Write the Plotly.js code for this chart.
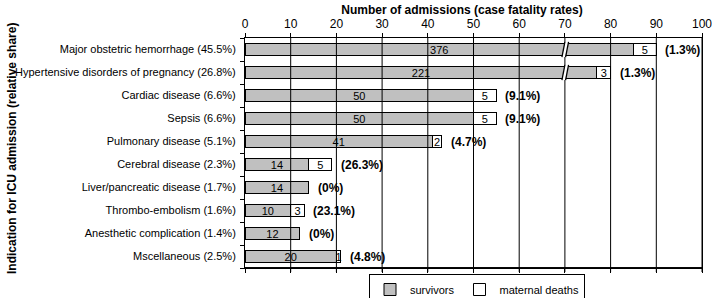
<!DOCTYPE html>
<html>
<head>
<meta charset="utf-8">
<script src="https://cdn.plot.ly/plotly-3.0.1.min.js"></script>
<style>html,body{margin:0;padding:0;background:#fff;overflow:hidden;}#chart{width:712px;height:298px;}</style>
</head>
<body>
<div id="chart"></div>
<script>
const categories = [
  "Major obstetric hemorrhage (45.5%)",
  "Hypertensive disorders of pregnancy (26.8%)",
  "Cardiac disease (6.6%)",
  "Sepsis (6.6%)",
  "Pulmonary disease (5.1%)",
  "Cerebral disease (2.3%)",
  "Liver/pancreatic disease (1.7%)",
  "Thrombo-embolism (1.6%)",
  "Anesthetic complication (1.4%)",
  "Mscellaneous (2.5%)"
];
const survivors = [376, 221, 50, 50, 41, 14, 14, 10, 12, 20];
// drawn length of the survivors bar (the first two are cut by an axis break)
const survivorsDrawn = [85, 77, 50, 50, 41, 14, 14, 10, 12, 20];
const deaths = [5, 3, 5, 5, 2, 5, 0, 3, 0, 1];
const fatalityRates = ["1.3%", "1.3%", "9.1%", "9.1%", "4.7%", "26.3%", "0%", "23.1%", "0%", "4.8%"];
const brokenBars = [true, true, false, false, false, false, false, false, false, false];
const breakAt = 70;
const xTicks = [0, 10, 20, 30, 40, 50, 60, 70, 80, 90, 100];

const FONT = "Liberation Sans, Arial, sans-serif";
const idx = categories.map((c, i) => i);
const yLo = -0.5, yHi = categories.length - 0.5;
const xLo = xTicks[0], xHi = xTicks[xTicks.length - 1];

// gridlines drawn as a line trace from the tick values (below the bars)
const gx = [], gy = [];
xTicks.slice(1).forEach(v => { gx.push(v, v, null); gy.push(yLo, yHi, null); });
// bottom frame line, just inside the plot area
gx.push(xLo, xHi); gy.push(yHi - 0.02, yHi - 0.02);

const traces = [
  {
    type: "scatter", mode: "lines", x: gx, y: gy, showlegend: false,
    line: {color: "#000", width: 1}, hoverinfo: "skip"
  },
  {
    type: "bar", orientation: "h", name: "survivors",
    y: idx, x: survivorsDrawn,
    text: survivors.map(String),
    textposition: "inside", insidetextanchor: "middle", textangle: 0,
    insidetextfont: {family: FONT, size: 11, color: "#000"},
    marker: {color: "#c0c0c0", line: {color: "#000", width: 1}},
    hoverinfo: "skip", width: 0.5, constraintext: "none"
  },
  {
    type: "bar", orientation: "h", name: "maternal deaths",
    y: idx, x: deaths,
    text: deaths.map(d => d > 0 ? String(d) : ""),
    textposition: "inside", insidetextanchor: "middle", textangle: 0,
    insidetextfont: {family: FONT, size: 11, color: "#000"},
    marker: {color: "#ffffff", line: {color: "#000", width: 1}},
    hoverinfo: "skip", width: 0.5, constraintext: "none"
  }
];

const annotations = idx.map(i => ({
  x: survivorsDrawn[i] + deaths[i], y: i, xref: "x", yref: "y",
  text: "<b>(" + fatalityRates[i] + ")</b>", showarrow: false,
  xanchor: "left", yanchor: "middle", xshift: 7,
  font: {family: FONT, size: 12, color: "#000"}
}));
annotations.push({
  xref: "paper", yref: "paper", x: 0, y: 0.5, xshift: -233, yshift: 4,
  text: "<b>Indication for ICU admission (relative share)</b>", textangle: -90,
  showarrow: false, xanchor: "center", yanchor: "middle",
  font: {family: FONT, size: 12, color: "#000"}
});

const shapes = [];
idx.forEach(i => {
  if (!brokenBars[i]) return;
  const h = 0.33, d = 0.65, g = 0.8;
  shapes.push({
    type: "path", xref: "x", yref: "y",
    path: `M ${breakAt - d},${i + h} L ${breakAt},${i - h} L ${breakAt + g},${i - h} L ${breakAt + g - d},${i + h} Z`,
    fillcolor: "#fff", line: {width: 0}, layer: "above"
  });
  [0, g].forEach(o => shapes.push({
    type: "line", xref: "x", yref: "y",
    x0: breakAt - d + o, y0: i + h, x1: breakAt + o, y1: i - h,
    line: {color: "#000", width: 1.3}, layer: "above"
  }));
});
// tick marks under the bottom frame line
xTicks.forEach(v => shapes.push({
  type: "line", xref: "x", yref: "paper", x0: v, x1: v, y0: 0, y1: -4 / 230,
  line: {color: "#000", width: 1}, layer: "above"
}));

const layout = {
  width: 712, height: 298,
  margin: {l: 245, r: 10, t: 38, b: 30, pad: 0, autoexpand: false},
  paper_bgcolor: "#fff", plot_bgcolor: "#fff",
  font: {family: FONT, size: 11, color: "#000"},
  barmode: "stack", bargap: 0.5,
  title: {
    text: "<b>Number of admissions (case fatality rates)</b>",
    font: {family: FONT, size: 12, color: "#000"},
    x: 462 / 712, xanchor: "center", xref: "container",
    y: 1 - 10 / 298, yanchor: "middle", yref: "container"
  },
  xaxis: {
    side: "top", range: [xLo, xHi], tickvals: xTicks,
    showgrid: false, zeroline: false,
    showline: true, linecolor: "#000", linewidth: 1, mirror: "ticks",
    ticks: "outside", ticklen: 4, tickcolor: "#000", ticklabeloverflow: "allow",
    tickfont: {family: FONT, size: 12, color: "#000"}, fixedrange: true
  },
  yaxis: {
    range: [yHi, yLo], tickvals: idx, ticktext: categories,
    ticks: "", showgrid: false, zeroline: false,
    showline: true, linecolor: "#000", linewidth: 1, mirror: true,
    minor: {tickvals: categories.map((c, i) => i - 0.5).concat([yHi]), ticks: "outside", ticklen: 4, tickcolor: "#000", showgrid: false},
    ticklabelstandoff: 6,
    tickfont: {family: FONT, size: 11, color: "#000"}, fixedrange: true
  },
  showlegend: true,
  legend: {
    orientation: "h", x: 477 / 712, xanchor: "center", xref: "container",
    y: 1 - 274 / 298, yanchor: "top", yref: "container",
    bordercolor: "#000", borderwidth: 1, bgcolor: "rgba(255,255,255,0)",
    font: {family: FONT, size: 11, color: "#000"},
    itemwidth: 30, tracegroupgap: 0, traceorder: "normal"
  },
  uniformtext: {mode: "show", minsize: 11},
  annotations: annotations,
  shapes: shapes
};

Plotly.newPlot("chart", traces, layout, {displayModeBar: false, staticPlot: true});
</script>
</body>
</html>
